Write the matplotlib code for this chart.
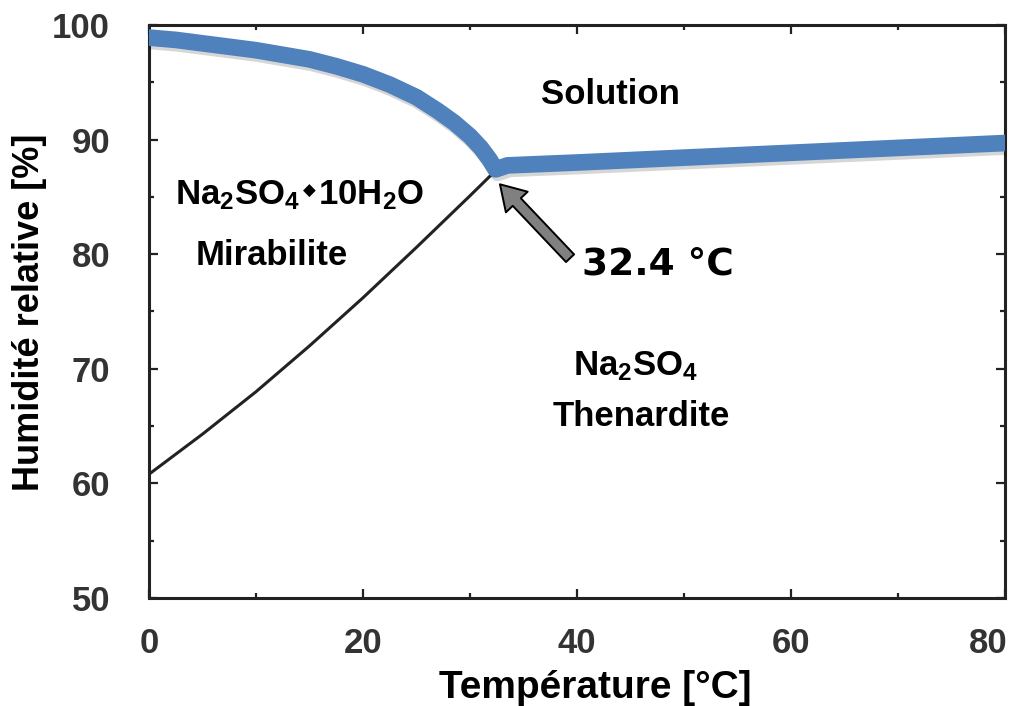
import matplotlib
matplotlib.use("Agg")
import matplotlib.pyplot as plt
import matplotlib.patheffects as pe
from matplotlib.transforms import ScaledTranslation
from matplotlib.ticker import MultipleLocator

# Deliquescence (liquidus) curve of the Na2SO4 - H2O system
T_liquidus = [0, 2.5, 5, 7.5, 10, 12.5, 15, 17.5, 20, 22.5, 25, 27, 28.5, 30, 31,
              31.8, 32.4, 33.5, 40, 60, 80]
RH_liquidus = [98.9, 98.7, 98.4, 98.1, 97.8, 97.4, 97.0, 96.4, 95.7, 94.8, 93.7,
               92.5, 91.5, 90.3, 89.3, 88.3, 87.4, 87.75, 88.0, 88.85, 89.7]

# Mirabilite / thenardite boundary
T_boundary = [0, 5, 10, 15, 20, 25, 28, 30, 32.4]
RH_boundary = [60.8, 64.3, 68.0, 72.0, 76.2, 80.6, 83.3, 85.1, 87.3]

# Transition point
T_transition = 32.4
transition_label = "32.4 °C"

x_ticks = [0, 20, 40, 60, 80]
y_ticks = [50, 60, 70, 80, 90, 100]

plt.rcParams["font.family"] = "Liberation Sans"
plt.rcParams["mathtext.fontset"] = "custom"
plt.rcParams["mathtext.rm"] = "Liberation Sans"
plt.rcParams["mathtext.bf"] = "Liberation Sans:bold"
plt.rcParams["mathtext.it"] = "Liberation Sans:italic"

W, H = 1022, 706
fig = plt.figure(figsize=(W / 100, H / 100), dpi=100)
fig.patch.set_facecolor("white")
ax = fig.add_axes([149 / W, 1 - 598 / H, (1005 - 149) / W, (598 - 25) / H])

ax.set_xlim(0, 80)
ax.set_ylim(50, 100)

# curves
ax.plot(T_liquidus, RH_liquidus, color="#4F81BD", lw=12,
        solid_joinstyle="round", solid_capstyle="round", zorder=3,
        path_effects=[pe.SimpleLineShadow(offset=(1.5, -2.5), shadow_color="k", alpha=0.16),
                      pe.Normal()])
ax.plot(T_boundary, RH_boundary, color="#222222", lw=2.2, zorder=2)

# axes styling
for sp in ax.spines.values():
    sp.set_linewidth(2.2)
    sp.set_color("#222222")
ax.xaxis.set_major_locator(MultipleLocator(20))
ax.xaxis.set_minor_locator(MultipleLocator(10))
ax.yaxis.set_major_locator(MultipleLocator(10))
ax.yaxis.set_minor_locator(MultipleLocator(5))
ax.set_xticks(x_ticks)
ax.set_yticks(y_ticks)
ax.tick_params(which="both", direction="in", top=True, right=True,
               color="#222222", width=1.6)
ax.tick_params(which="major", length=6.5)
ax.tick_params(which="minor", length=3.5)
ax.tick_params(axis="x", which="major", pad=21, labelsize=25, labelcolor="#333333")
ax.tick_params(axis="y", which="major", pad=28, labelsize=25, labelcolor="#333333")
for lab in ax.get_xticklabels() + ax.get_yticklabels():
    lab.set_fontweight("bold")
last = ax.get_xticklabels()[-1]
last.set_transform(last.get_transform() + ScaledTranslation(-17 / 100, 0, fig.dpi_scale_trans))

fig.text(595 / W, 1 - 688 / H, "Température [°C]", ha="center", va="center",
         fontsize=28, fontweight="bold", color="black")
fig.text(30 / W, 1 - 312 / H, "Humidité relative [%]", ha="center", va="center",
         rotation=90, fontsize=26, fontweight="bold", color="black")

# phase labels
fs = 25
ax.text(36.6, 93.1, "Solution", fontsize=fs, fontweight="bold", ha="left", va="baseline")
t1 = ax.text(2.4, 84.35, r"Na$_\mathbf{2}$SO$_\mathbf{4}$", fontsize=fs,
             fontweight="bold", ha="left", va="baseline")
t2 = ax.annotate("\u25C6", xy=(1, 0.62), xycoords=t1, xytext=(2, 0),
                 textcoords="offset points", ha="left", va="center",
                 fontsize=12, family=["DejaVu Sans"])
ax.annotate(r"10H$_\mathbf{2}$O", xy=(1, 0), xycoords=(t2, t1), xytext=(2, 0),
            textcoords="offset points", ha="left", va="bottom",
            fontsize=fs, fontweight="bold")
ax.text(11.5, 79.1, "Mirabilite", fontsize=fs, fontweight="bold", ha="center", va="baseline")
ax.text(45.5, 69.4, r"Na$_\mathbf{2}$SO$_\mathbf{4}$", fontsize=fs, fontweight="bold",
        ha="center", va="baseline")
ax.text(46.0, 65.0, "Thenardite", fontsize=fs, fontweight="bold", ha="center", va="baseline")

# transition point arrow and label
ax.annotate("", xy=(T_transition + 0.4, 86.1), xytext=(39.35, 79.65),
            arrowprops=dict(arrowstyle="simple,head_length=1.1,head_width=1.35,tail_width=0.5",
                            mutation_scale=16, fc="#808080", ec="black", lw=1.4,
                            shrinkA=0, shrinkB=0), zorder=4)
ax.text(40.5, 78.26, transition_label, fontsize=27, fontweight="bold",
        family=["DejaVu Sans"], ha="left", va="baseline")

fig.savefig("out.png", dpi=100, facecolor="white")
